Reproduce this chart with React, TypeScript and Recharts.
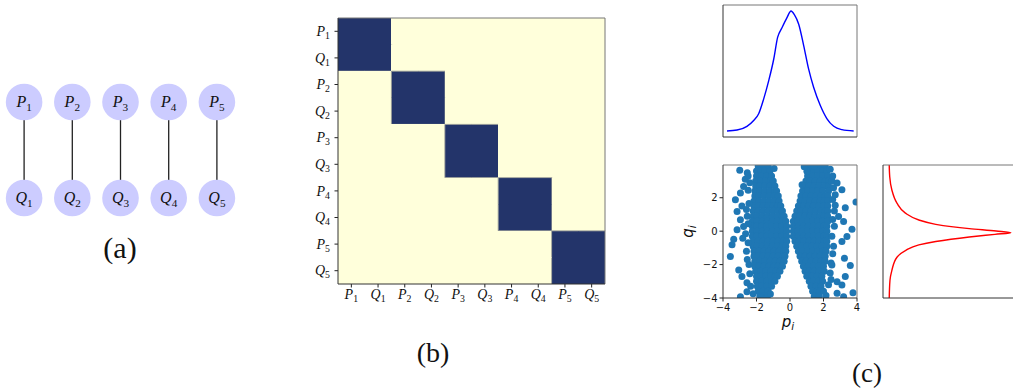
import React from "react";
import { ScatterChart, Scatter, LineChart, Line, BarChart, Bar, XAxis, YAxis } from "recharts";

const SERIF = '"Liberation Serif", "Times New Roman", serif';
const SANS = '"DejaVu Sans", sans-serif';

// (a) pairs P_i -- Q_i
const pairIds = [1, 2, 3, 4, 5];
const topRow = 1;
const bottomRow = 0;

// (b) block-diagonal coupling matrix
const gridLabels = ["P_1", "Q_1", "P_2", "Q_2", "P_3", "Q_3", "P_4", "Q_4", "P_5", "Q_5"];
const coupling = [
  [1, 1, 0, 0, 0, 0, 0, 0, 0, 0],
  [1, 1, 0, 0, 0, 0, 0, 0, 0, 0],
  [0, 0, 1, 1, 0, 0, 0, 0, 0, 0],
  [0, 0, 1, 1, 0, 0, 0, 0, 0, 0],
  [0, 0, 0, 0, 1, 1, 0, 0, 0, 0],
  [0, 0, 0, 0, 1, 1, 0, 0, 0, 0],
  [0, 0, 0, 0, 0, 0, 1, 1, 0, 0],
  [0, 0, 0, 0, 0, 0, 1, 1, 0, 0],
  [0, 0, 0, 0, 0, 0, 0, 0, 1, 1],
  [0, 0, 0, 0, 0, 0, 0, 0, 1, 1],
];
const DARK = "#23346a";
const LIGHT = "#ffffdb";

// (c) marginal density of p
const kdeP = [-3.76, -3.16, -2.57, -2.17, -1.87, -1.57, -1.27, -0.97, -0.74, -0.48, -0.18, 0.06, 0.26, 0.52, 0.82, 1.11, 1.41, 1.81, 2.21, 2.61, 3.1, 3.8];
const kdeDensity = [0, 0.008, 0.039, 0.088, 0.144, 0.268, 0.42, 0.6, 0.78, 0.86, 0.945, 1.0, 0.97, 0.89, 0.71, 0.517, 0.365, 0.213, 0.102, 0.039, 0.011, 0];

// (c) marginal density of q
const margQ = [3.96, 2.9, 2.32, 1.52, 1.12, 0.78, 0.58, 0.31, 0.15, 0.05, -0.05, -0.19, -0.45, -0.71, -1.12, -1.72, -2.52, -3.3, -4.0];
const margDensity = [0.006, 0.012, 0.027, 0.069, 0.138, 0.248, 0.386, 0.66, 0.87, 1.0, 0.88, 0.66, 0.386, 0.248, 0.138, 0.069, 0.027, 0.01, 0.006];

// (c) samples (p_i, q_i): rows are [q, p, p, ...]
const leftLobeRows = [
  [3.9, -1.9, -1.6, -1.3],
  [3.6, -2.0, -1.75, -1.5, -1.2],
  [3.3, -2.0, -1.7, -1.4, -1.1],
  [3.0, -2.05, -1.75, -1.45, -1.15, -1.0],
  [2.7, -2.05, -1.8, -1.5, -1.2, -0.9],
  [2.4, -2.1, -1.8, -1.5, -1.2, -0.9, -0.8],
  [2.1, -2.1, -1.85, -1.55, -1.25, -0.95, -0.7],
  [1.8, -2.15, -1.85, -1.55, -1.25, -0.95, -0.65],
  [1.5, -2.15, -1.9, -1.6, -1.3, -1.0, -0.75, -0.55],
  [1.2, -2.2, -1.9, -1.6, -1.3, -1.0, -0.7, -0.45],
  [0.9, -2.2, -1.95, -1.65, -1.35, -1.05, -0.75, -0.45, -0.35],
  [0.6, -2.25, -1.95, -1.65, -1.35, -1.05, -0.75, -0.45, -0.25],
  [0.3, -2.25, -2.0, -1.7, -1.4, -1.1, -0.8, -0.5, -0.2],
  [0.0, -2.25, -1.95, -1.65, -1.35, -1.05, -0.75, -0.45, -0.2],
  [-0.3, -2.25, -2.0, -1.7, -1.4, -1.1, -0.8, -0.5, -0.2],
  [-0.6, -2.2, -1.9, -1.6, -1.3, -1.0, -0.7, -0.4, -0.2],
  [-0.9, -2.2, -1.95, -1.65, -1.35, -1.05, -0.75, -0.45, -0.25],
  [-1.2, -2.15, -1.85, -1.55, -1.25, -0.95, -0.65, -0.35, -0.25],
  [-1.5, -2.15, -1.9, -1.6, -1.3, -1.0, -0.7, -0.4, -0.3],
  [-1.8, -2.1, -1.8, -1.5, -1.2, -0.9, -0.6, -0.35],
  [-2.1, -2.1, -1.85, -1.55, -1.25, -0.95, -0.7, -0.45],
  [-2.4, -2.05, -1.75, -1.45, -1.15, -0.85, -0.6],
  [-2.7, -2.0, -1.75, -1.45, -1.15, -0.9, -0.75],
  [-3.0, -2.0, -1.7, -1.4, -1.1, -0.9],
  [-3.3, -1.95, -1.7, -1.4, -1.1],
  [-3.6, -1.9, -1.6, -1.3],
  [-3.9, -1.8, -1.55, -1.35],
];
const rightLobeRows = [
  [3.9, 1.2, 1.5, 1.8, 2.1],
  [3.6, 1.1, 1.35, 1.65, 1.95, 2.2],
  [3.3, 1.05, 1.35, 1.65, 1.95, 2.25],
  [3.0, 0.95, 1.2, 1.5, 1.8, 2.1, 2.3],
  [2.7, 0.85, 1.15, 1.45, 1.75, 2.05, 2.3],
  [2.4, 0.75, 1.05, 1.35, 1.65, 1.95, 2.3],
  [2.1, 0.65, 0.95, 1.25, 1.55, 1.85, 2.1, 2.25],
  [1.8, 0.6, 0.9, 1.2, 1.5, 1.8, 2.05, 2.25],
  [1.5, 0.5, 0.8, 1.1, 1.4, 1.7, 2.0, 2.25],
  [1.2, 0.4, 0.65, 0.95, 1.25, 1.55, 1.85, 2.1, 2.25],
  [0.9, 0.3, 0.6, 0.9, 1.2, 1.5, 1.8, 2.05, 2.25],
  [0.6, 0.2, 0.45, 0.75, 1.05, 1.35, 1.65, 1.95, 2.25],
  [0.3, 0.2, 0.5, 0.8, 1.1, 1.4, 1.7, 2.0, 2.2],
  [0.0, 0.2, 0.45, 0.75, 1.05, 1.35, 1.65, 1.95, 2.2],
  [-0.3, 0.2, 0.5, 0.8, 1.1, 1.4, 1.7, 2.0, 2.2],
  [-0.6, 0.3, 0.55, 0.85, 1.15, 1.45, 1.75, 2.05, 2.2],
  [-0.9, 0.4, 0.7, 1.0, 1.3, 1.6, 1.9, 2.2],
  [-1.2, 0.5, 0.75, 1.05, 1.35, 1.65, 1.95, 2.15],
  [-1.5, 0.6, 0.9, 1.2, 1.5, 1.8, 2.1],
  [-1.8, 0.7, 0.95, 1.25, 1.55, 1.85, 2.1],
  [-2.1, 0.8, 1.1, 1.4, 1.7, 2.0],
  [-2.4, 0.9, 1.15, 1.45, 1.75, 2.05],
  [-2.7, 1.0, 1.3, 1.6, 1.9],
  [-3.0, 1.15, 1.4, 1.7, 1.95],
  [-3.3, 1.25, 1.55, 1.85],
  [-3.6, 1.35, 1.6, 1.8],
  [-3.9, 1.45, 1.75],
];
// samples on the ragged outer rim of each lobe, as [p, q]
const rimPoints = [
  [-2.55, 3.5], [-2.4, 2.9], [-2.5, 2.45], [-2.45, 1.65], [-2.6, 1.3], [-2.5, 0.45], [-2.65, -0.15],
  [-2.5, -0.7], [-2.55, -1.7], [-2.4, -2.55], [-2.35, -3.3], [-2.2, -3.75],
  [2.5, 3.0], [2.6, 2.6], [2.55, 1.9], [2.7, 1.55], [2.55, 0.7], [2.65, 0.3], [2.5, -0.3],
  [2.55, -1.35], [2.45, -1.9], [2.4, -2.5], [2.3, -3.2], [2.15, -3.85],
];
// scattered samples well outside the dense core, as [p, q]
const strayPoints = [
  [-3.0, 3.64], [-2.67, 3.1], [-2.77, 2.68], [-2.96, 2.28], [-3.26, 1.88], [-2.87, 1.5], [-3.16, 1.18],
  [-2.96, 0.68], [-2.77, 0.28], [-3.16, 0.08], [-2.82, -0.42], [-3.36, -0.48], [-3.46, -0.82], [-3.56, -1.52],
  [-3.06, -2.32], [-2.87, -2.72], [-2.57, -3.08], [-2.57, -3.62], [-2.96, -3.92], [-1.77, -3.92], [-1.17, -3.76],
  [-2.5, 3.3], [-2.55, 0.9], [-2.6, -1.2], [-2.45, -2.0], [-0.95, 3.75],
  [2.4, 3.7], [1.42, 3.88], [1.01, 3.58], [0.72, 2.78], [2.81, 2.88], [3.1, 2.48], [2.7, 2.18], [3.3, 1.4],
  [3.94, 1.74], [2.9, 0.88], [3.2, 0.58], [3.7, 0.12], [3.4, -0.32], [3.1, -0.62], [3.25, -1.62], [2.5, -2.02],
  [3.6, -2.06], [3.3, -2.72], [2.81, -3.02], [3.1, -3.22], [2.0, -3.6], [2.81, -3.72], [3.76, -3.68], [3.2, -3.92],
  [2.65, 1.2], [2.6, -0.9], [2.55, 3.3], [2.45, -2.9], [0.85, 3.85],
];

const pTicks = [-4, -2, 0, 2, 4];
const qTicks = [-4, -2, 0, 2];

const minus = (v: number) => (v < 0 ? `\u2212${-v}` : `${v}`);

// "P_1" -> italic P with a lowered 1
function mathText(label: string, size: number) {
  const [base, sub] = label.split("_");
  return [
    <tspan key="b" fontStyle="italic">{base}</tspan>,
    <tspan key="s" fontSize={size * 0.7} dy={size * 0.22}>{sub}</tspan>,
  ];
}

const edgeData = pairIds.map((i) => [
  { x: i, y: bottomRow },
  { x: i, y: topRow },
]);
const nodeData = pairIds.flatMap((i) => [
  { x: i, y: topRow, label: `P_${i}` },
  { x: i, y: bottomRow, label: `Q_${i}` },
]);

const heatData = gridLabels.map((col, ci) => {
  const entry: Record<string, any> = { col, ci };
  gridLabels.forEach((_, ri) => {
    entry[`r${ri}`] = 1;
  });
  return entry;
});
const rowTicks = gridLabels.map((_, i) => i + 0.5);

const kdeData = kdeP.map((p, i) => ({ p, h: kdeDensity[i] }));
const margData = margQ.map((q, i) => ({ q, d: margDensity[i] }));
const samples = [
  ...leftLobeRows.flatMap(([q, ...ps]) => ps.map((p) => ({ p, q }))),
  ...rightLobeRows.flatMap(([q, ...ps]) => ps.map((p) => ({ p, q }))),
  ...rimPoints.map(([p, q]) => ({ p, q })),
  ...strayPoints.map(([p, q]) => ({ p, q })),
];

function NodeShape(props: any) {
  const { cx, cy, payload } = props;
  return (
    <g>
      <circle cx={cx} cy={cy} r={18.3} fill="#ccccff" />
      <text x={cx} y={cy + 5.3} textAnchor="middle" fontFamily={SERIF} fontSize={16} fill="#111">
        {mathText(payload.label, 16)}
      </text>
    </g>
  );
}

const n = gridLabels.length;
const cellShape = (ri: number) => (props: any) => {
  const { x, y, width, height, payload } = props;
  const ci = payload.ci;
  const top = Math.min(y, y + height);
  const h = Math.abs(height);
  const v = coupling[ri][ci];
  const edge = { stroke: "#a3a59e", strokeWidth: 1 };
  return (
    <g>
      <rect x={x} y={top} width={width} height={h} fill={v ? DARK : LIGHT} shapeRendering="crispEdges" />
      {v && ri > 0 && !coupling[ri - 1][ci] ? <line x1={x} x2={x + width} y1={top} y2={top} {...edge} /> : null}
      {v && ri < n - 1 && !coupling[ri + 1][ci] ? <line x1={x} x2={x + width} y1={top + h} y2={top + h} {...edge} /> : null}
      {v && ci > 0 && !coupling[ri][ci - 1] ? <line x1={x} x2={x} y1={top} y2={top + h} {...edge} /> : null}
      {v && ci < n - 1 && !coupling[ri][ci + 1] ? <line x1={x + width} x2={x + width} y1={top} y2={top + h} {...edge} /> : null}
    </g>
  );
};

function HeatXTick({ x, y, payload }: any) {
  return (
    <text x={x} y={y} dy={9.5} textAnchor="middle" fontFamily={SERIF} fontSize={14} fill="#111">
      {mathText(payload.value, 14)}
    </text>
  );
}

function HeatYTick({ x, y, payload }: any) {
  return (
    <text x={x} y={y} dy={4.6} textAnchor="end" fontFamily={SERIF} fontSize={14} fill="#111">
      {mathText(gridLabels[Math.floor(payload.value)], 14)}
    </text>
  );
}

function SampleDot({ cx, cy }: any) {
  return <circle cx={cx} cy={cy} r={3.5} fill="#1f77b4" />;
}

const noMargin = { top: 0, right: 0, bottom: 0, left: 0 };
const sansTick = { fontSize: 10, fill: "#111", fontFamily: SANS };

// plot frames (spines)
const frames = [
  { x: 338, y: 18, w: 267, h: 266 },
  { x: 723, y: 5, w: 134, h: 132 },
  { x: 723, y: 165, w: 134, h: 133 },
  { x: 883, y: 165, w: 134, h: 133 },
];

export default function App() {
  return (
    <div style={{ position: "absolute", left: 0, top: 0, width: 1013, height: 391, overflow: "hidden", background: "#fff" }}>
      {/* (a) */}
      <div style={{ position: "absolute", left: 0, top: 54 }}>
        <ScatterChart width={241} height={192} margin={noMargin}>
          <XAxis type="number" dataKey="x" domain={[0.5, 5.5]} hide />
          <YAxis type="number" dataKey="y" domain={[-0.5, 1.5]} hide />
          {edgeData.map((d, k) => (
            <Scatter key={k} data={d} line={{ stroke: "#222", strokeWidth: 1.3 }} shape={() => <g />} isAnimationActive={false} />
          ))}
          <Scatter data={nodeData} shape={NodeShape} isAnimationActive={false} />
        </ScatterChart>
      </div>

      {/* (b) */}
      <div style={{ position: "absolute", left: 290, top: 8 }}>
        <BarChart width={330} height={300} data={heatData} margin={{ top: 10, right: 15, left: 0, bottom: 0 }} barCategoryGap={0} barGap={0}>
          <XAxis dataKey="col" type="category" height={24} interval={0} tickSize={3.5} tickMargin={1.5} tick={HeatXTick} axisLine={false} tickLine={{ stroke: "#222" }} />
          <YAxis type="number" domain={[0, n]} reversed allowDataOverflow width={48} ticks={rowTicks} interval={0} tickSize={3.5} tickMargin={4.5} tick={HeatYTick} axisLine={false} tickLine={{ stroke: "#222" }} />
          {gridLabels.map((_, ri) => (
            <Bar key={ri} dataKey={`r${ri}`} stackId="m" shape={cellShape(ri)} isAnimationActive={false} />
          ))}
        </BarChart>
      </div>

      {/* (c) density of p */}
      <div style={{ position: "absolute", left: 723, top: 5 }}>
        <LineChart width={134} height={132} data={kdeData} margin={noMargin}>
          <XAxis type="number" dataKey="p" domain={[-4, 4]} hide />
          <YAxis type="number" domain={[-0.05, 1.05]} hide />
          <Line type="monotone" dataKey="h" stroke="#0000ff" strokeWidth={1.4} dot={false} isAnimationActive={false} />
        </LineChart>
      </div>

      {/* (c) samples */}
      <div style={{ position: "absolute", left: 680, top: 160 }}>
        <ScatterChart width={190} height={170} margin={{ top: 5, right: 13, left: 0, bottom: 0 }}>
          <XAxis type="number" dataKey="p" domain={[-4, 4]} allowDataOverflow ticks={pTicks} interval={0} height={32} tickSize={3.5} tickMargin={2} tick={sansTick} tickFormatter={minus} axisLine={false} tickLine={{ stroke: "#222" }} />
          <YAxis type="number" dataKey="q" domain={[-4, 3.96]} allowDataOverflow ticks={qTicks} interval={0} width={43} tickSize={3.5} tickMargin={2} tick={sansTick} tickFormatter={minus} axisLine={false} tickLine={{ stroke: "#222" }} />
          <Scatter data={samples} shape={SampleDot} isAnimationActive={false} />
        </ScatterChart>
      </div>

      {/* (c) density of q */}
      <div style={{ position: "absolute", left: 883, top: 165 }}>
        <LineChart layout="vertical" width={134} height={133} data={margData} margin={noMargin}>
          <XAxis type="number" domain={[-0.045, 1.05]} hide />
          <YAxis type="number" dataKey="q" domain={[-4, 3.96]} hide />
          <Line type="monotone" dataKey="d" stroke="#ff0000" strokeWidth={1.4} dot={false} isAnimationActive={false} />
        </LineChart>
      </div>

      <svg width={1013} height={391} style={{ position: "absolute", left: 0, top: 0, pointerEvents: "none" }}>
        {frames.map((f, k) => (
          <g key={k} fill="none" strokeWidth={1}>
            <line x1={f.x} x2={f.x + f.w} y1={f.y} y2={f.y} stroke="#777" />
            <line x1={f.x + f.w} x2={f.x + f.w} y1={f.y} y2={f.y + f.h} stroke="#777" />
            <line x1={f.x} x2={f.x} y1={f.y} y2={f.y + f.h} stroke="#333" />
            <line x1={f.x} x2={f.x + f.w} y1={f.y + f.h} y2={f.y + f.h} stroke="#333" />
          </g>
        ))}
        <text x={788} y={327} textAnchor="middle" fontFamily={SANS} fontSize={15} fill="#111">
          <tspan fontStyle="italic">p</tspan>
          <tspan fontStyle="italic" fontSize={10.5} dy={3}>i</tspan>
        </text>
        <text transform="translate(692.5, 231.5) rotate(-90)" textAnchor="middle" fontFamily={SANS} fontSize={15} fill="#111">
          <tspan fontStyle="italic">q</tspan>
          <tspan fontStyle="italic" fontSize={10.5} dy={3}>i</tspan>
        </text>
        <text x={120} y={258} textAnchor="middle" fontFamily={SERIF} fontSize={30} fill="#111">(a)</text>
        <text x={433} y={362} textAnchor="middle" fontFamily={SERIF} fontSize={28} fill="#111">(b)</text>
        <text x={867} y={381.5} textAnchor="middle" fontFamily={SERIF} fontSize={27} fill="#111">(c)</text>
      </svg>
    </div>
  );
}
